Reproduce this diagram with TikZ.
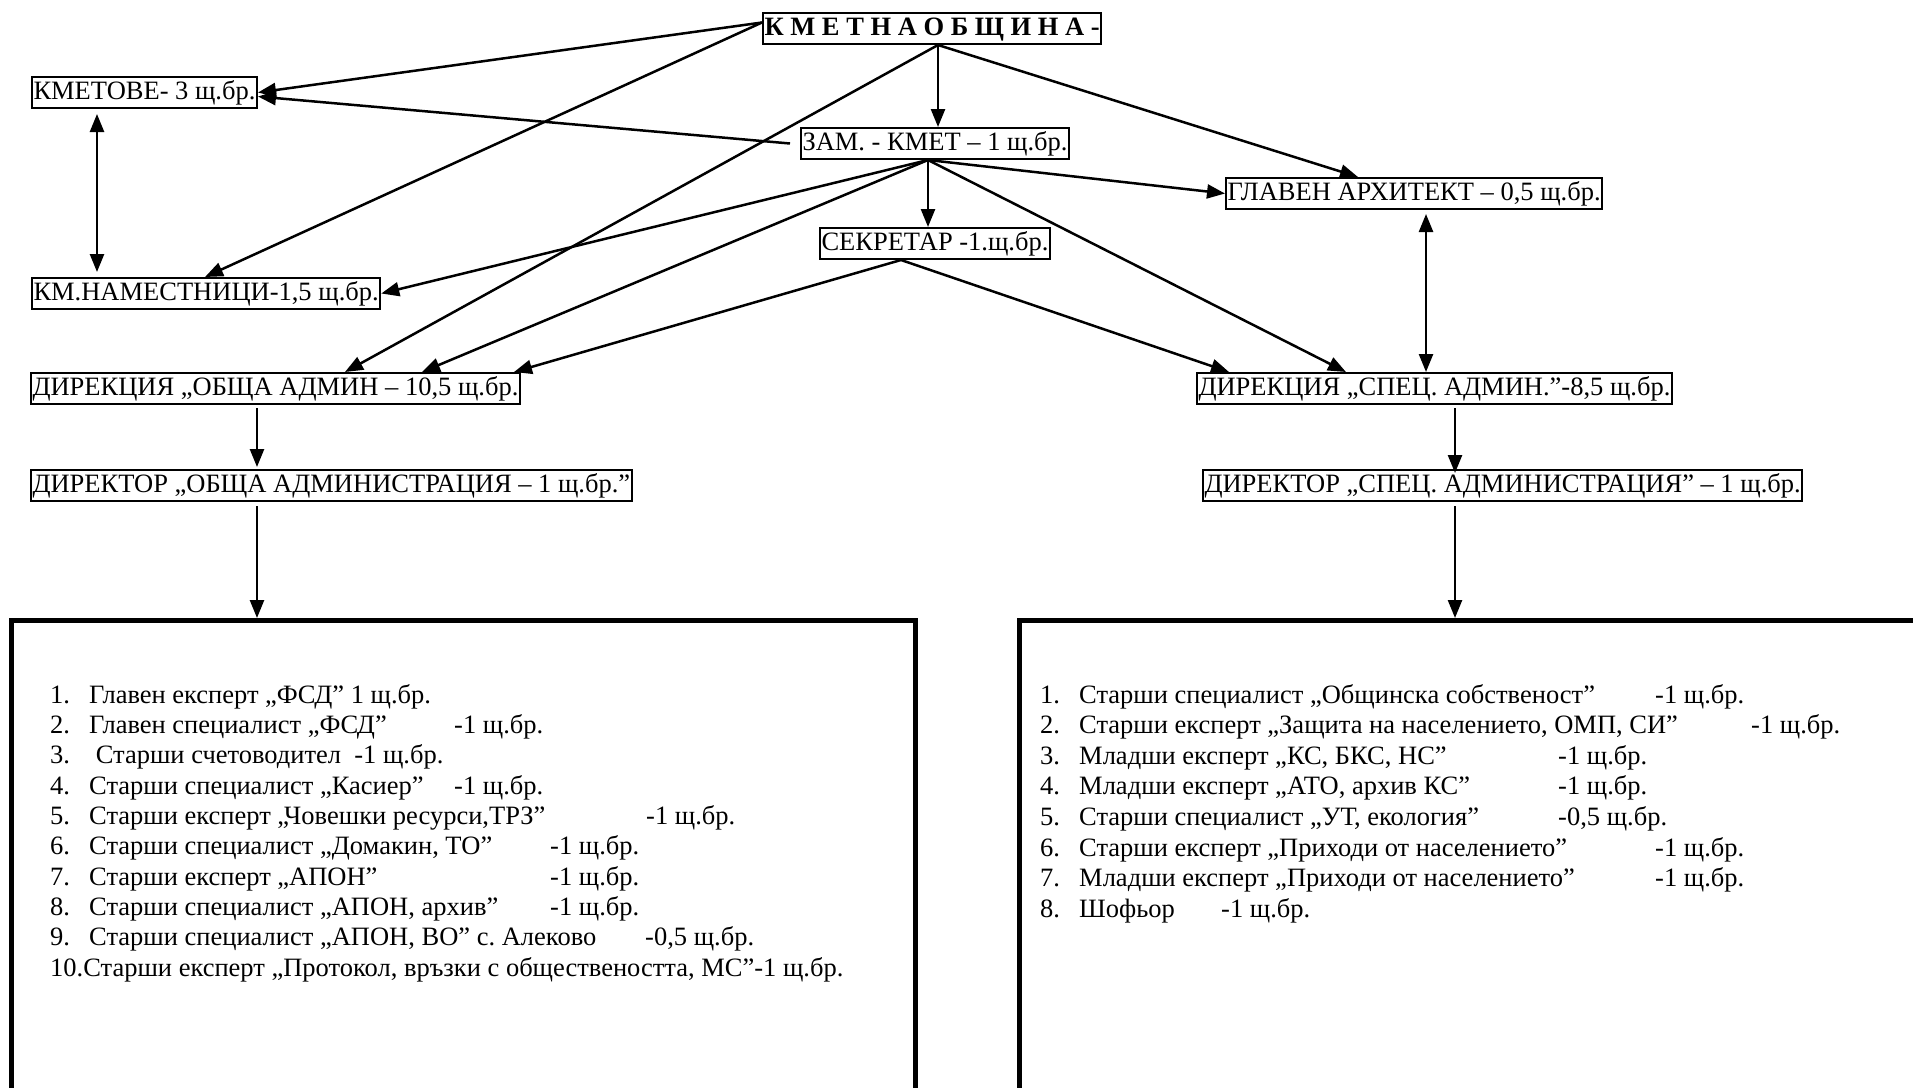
\documentclass[tikz,border=0pt]{standalone}
\usepackage{fontspec}
\setmainfont{Liberation Serif}
\usetikzlibrary{arrows.meta}
\frenchspacing

\tikzset{
  post/.style={draw, line width=2pt, anchor=north west, inner xsep=1.5pt, inner ysep=2pt,
    text height=20pt, text depth=7pt, font=\fontsize{26.5}{31}\selectfont},
  listbox/.style={draw, line width=4.5pt, anchor=north west},
  listrow/.style={anchor=base west, inner sep=0pt, font=\fontsize{26.5}{31}\selectfont},
  arr/.style={line width=2.5pt, -{Triangle[length=18pt,width=14pt]}},
  dbl/.style={line width=2.5pt, {Triangle[length=18pt,width=14pt]}-{Triangle[length=18pt,width=14pt]}}
}

\begin{document}
\begin{tikzpicture}[x=1pt, y=-1pt]
\useasboundingbox (0,0) rectangle (1913,1087);

% posts
\node [post, font=\fontsize{26.5}{31}\selectfont\bfseries] (kmet) at (762,12) {К М Е Т Н А О Б Щ И Н А -};
\node [post] (kmetove) at (31,76) {КМЕТОВЕ- 3 щ.бр.};
\node [post] (namestnici) at (31,277) {КМ.НАМЕСТНИЦИ-1,5 щ.бр.};
\node [post] (zam) at (800,127) {ЗАМ. - КМЕТ – 1 щ.бр.};
\node [post] (sekretar) at (819,227) {СЕКРЕТАР -1.щ.бр.};
\node [post] (arhitekt) at (1225,177) {ГЛАВЕН АРХИТЕКТ – 0,5 щ.бр.};
\node [post] (dirOA) at (30,372) {ДИРЕКЦИЯ „ОБЩА АДМИН – 10,5 щ.бр.};
\node [post] (dirSA) at (1196,372) {ДИРЕКЦИЯ „СПЕЦ. АДМИН.”-8,5 щ.бр.};
\node [post] (direktorOA) at (30,469) {ДИРЕКТОР „ОБЩА АДМИНИСТРАЦИЯ – 1 щ.бр.”};
\node [post] (direktorSA) at (1202,469) {ДИРЕКТОР „СПЕЦ. АДМИНИСТРАЦИЯ” – 1 щ.бр.};

% staff lists
\node [listbox, minimum width=904pt, minimum height=540pt] (listOA) at (9,618) {};
\node [listbox, minimum width=1000pt, minimum height=540pt] (listSA) at (1017,618) {};

\foreach \n/\t [count=\i] in {1./{Главен експерт „ФСД” 1 щ.бр.},
    2./{Главен специалист „ФСД”}, 3./{~Старши счетоводител~~-1 щ.бр.},
    4./{Старши специалист „Касиер”}, 5./{Старши експерт „Човешки ресурси,ТРЗ”},
    6./{Старши специалист „Домакин, ТО”}, 7./{Старши експерт „АПОН”},
    8./{Старши специалист „АПОН, архив”}, 9./{Старши специалист „АПОН, ВО” с. Алеково}}
{
  \node [listrow] (oa-n\i) at (50,703+\i*30.35-30.35) {\n};
  \node [listrow] (oa-\i) at (89,703+\i*30.35-30.35) {\t};
}
\node [listrow] (oa-10) at (50,976) {10.Старши експерт „Протокол, връзки с обществеността, МС”-1 щ.бр.};

\foreach \i/\x/\q in {2/454/-1 щ.бр., 4/454/-1 щ.бр., 5/646/-1 щ.бр., 6/550/-1 щ.бр.,
    7/550/-1 щ.бр., 8/550/-1 щ.бр., 9/645/{-0,5 щ.бр.}}
  \node [listrow] (oa-q\i) at (\x,703+\i*30.35-30.35) {\q};

\foreach \t [count=\i] in {{Старши специалист „Общинска собственост”},
    {Старши експерт „Защита на населението, ОМП, СИ”}, {Младши експерт „КС, БКС, НС”},
    {Младши експерт „АТО, архив КС”}, {Старши специалист „УТ, екология”},
    {Старши експерт „Приходи от населението”}, {Младши експерт „Приходи от населението”},
    Шофьор}
{
  \node [listrow] (sa-n\i) at (1040,703+\i*30.6-30.6) {\i.};
  \node [listrow] (sa-\i) at (1079,703+\i*30.6-30.6) {\t};
}

\foreach \i/\x/\q in {1/1655/-1 щ.бр., 2/1751/-1 щ.бр., 3/1558/-1 щ.бр., 4/1558/-1 щ.бр.,
    5/1558/{-0,5 щ.бр.}, 6/1655/-1 щ.бр., 7/1655/-1 щ.бр., 8/1221/-1 щ.бр.}
  \node [listrow] (sa-q\i) at (\x,703+\i*30.6-30.6) {\q};

% connectors
\draw [arr] ([yshift=6pt]kmet.west) -- (kmetove.east);
\draw [arr] ([yshift=6pt]kmet.west) -- ([xshift=174pt]namestnici.north west);
\draw [arr] ([xshift=176pt]kmet.south west) -- ([xshift=138pt]zam.north west);
\draw [arr] ([xshift=176pt]kmet.south west) -- ([xshift=133pt]arhitekt.north west);
\draw [arr] ([xshift=176pt]kmet.south west) -- ([xshift=315pt]dirOA.north west);

\draw [arr] ([xshift=-10pt]zam.west) -- ([yshift=-4pt]kmetove.east);
\draw [arr] ([xshift=128pt]zam.south west) -- (namestnici.east);
\draw [arr] ([xshift=128pt]zam.south west) -- ([xshift=392pt]dirOA.north west);
\draw [arr] ([xshift=128pt]zam.south west) -- ([xshift=109pt]sekretar.north west);
\draw [arr] ([xshift=128pt]zam.south west) -- (arhitekt.west);
\draw [arr] ([xshift=128pt]zam.south west) -- ([xshift=150pt]dirSA.north west);

\draw [arr] ([xshift=82pt]sekretar.south west) -- ([xshift=484pt]dirOA.north west);
\draw [arr] ([xshift=82pt]sekretar.south west) -- ([xshift=33pt]dirSA.north west);

\draw [dbl, shorten <=5pt, shorten >=5pt] ([xshift=66pt]kmetove.south west) -- ([xshift=66pt]namestnici.north west);
\draw [dbl, shorten <=4pt] ([xshift=201pt]arhitekt.south west) -- ([xshift=230pt]dirSA.north west);

\draw [arr, shorten <=3pt, shorten >=2pt] ([xshift=227pt]dirOA.south west) -- ([xshift=227pt]direktorOA.north west);
\draw [arr, shorten <=4pt] ([xshift=227pt]direktorOA.south west) -- ([xshift=248pt]listOA.north west);
\draw [arr, shorten <=3pt, shorten >=-4pt] ([xshift=259pt]dirSA.south west) -- ([xshift=253pt]direktorSA.north west);
\draw [arr, shorten <=4pt] ([xshift=253pt]direktorSA.south west) -- ([xshift=438pt]listSA.north west);

\end{tikzpicture}
\end{document}
